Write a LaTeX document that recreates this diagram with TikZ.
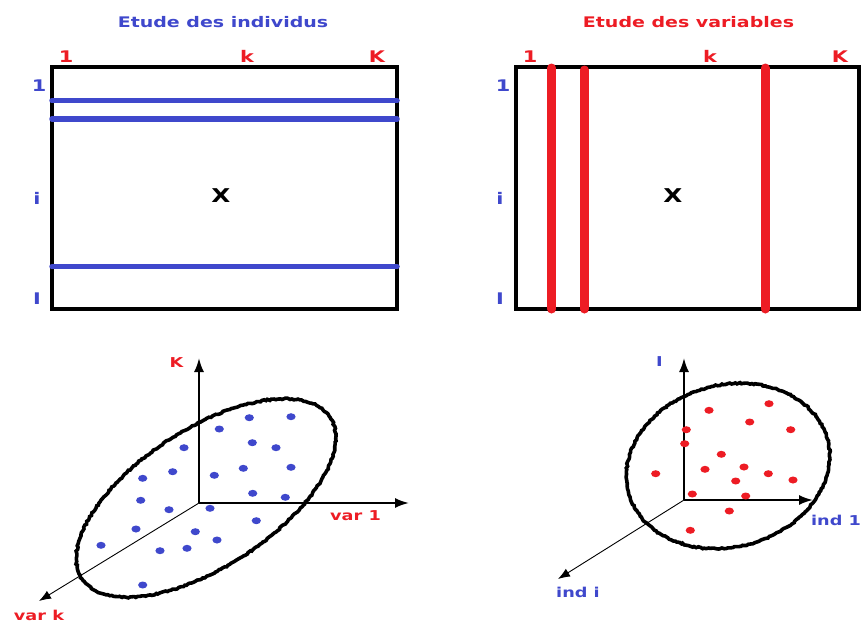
\documentclass[tikz,border=0pt]{standalone}
\usepackage{fontspec}
\usetikzlibrary{arrows.meta,decorations.pathmorphing}
\newfontfamily\lblfont{DejaVu Sans}[FakeStretch=1.3]
\definecolor{pblue}{RGB}{63,72,204}
\definecolor{pred}{RGB}{237,28,36}
\newcommand\setfs[1]{\fontsize{#1}{#1}\selectfont}
\begin{document}
\begin{tikzpicture}[x=1pt,y=-1pt,
  ttl/.style={font={\lblfont\bfseries\setfs{14.6}}, inner sep=0pt},
  mlab/.style={font={\lblfont\bfseries\setfs{16}}, inner sep=0pt, anchor=base},
  alab/.style={font={\lblfont\bfseries\setfs{13.6}}, inner sep=0pt, anchor=base},
  xlab/.style={font={\lblfont\bfseries\setfs{19}}, inner sep=0pt, anchor=base},
  matbox/.style={draw=black, line width=4pt},
  bline/.style={draw=pblue, line width=5.5pt, line cap=round},
  rline/.style={draw=pred, line width=9pt, line cap=round},
  axis/.style={line width=2pt, -{Latex[length=14pt,width=10pt]}},
  diag/.style={line width=0.9pt, -{Latex[length=12pt,width=9pt]}},
  cloud/.style={draw=black, line width=3.6pt, decorate,
    decoration={random steps, segment length=2pt, amplitude=0.7pt}}
]
\pgfmathsetseed{7}
\useasboundingbox (0,0) rectangle (868,622);
\fill[white] (0,0) rectangle (868,622);

% ---------- titles ----------
\node[ttl, text=pblue] (t1) at (223,22.5) {Etude des individus};
\node[ttl, text=pred] (t2) at (688.5,22.5) {Etude des variables};

% ---------- left matrix ----------
\coordinate (L1) at (52,67);
\coordinate (L2) at (397,309);
\draw[matbox] (L1) rectangle (L2);
\coordinate (ba1) at (52,100.7); \coordinate (bb1) at (397,100.7);
\coordinate (ba2) at (52,119);   \coordinate (bb2) at (397,119);
\coordinate (ba3) at (52,266.7); \coordinate (bb3) at (397,266.7);
\draw[bline] (ba1) -- (bb1);
\draw[bline] (ba2) -- (bb2);
\draw[bline] (ba3) -- (bb3);
\node[mlab, text=pred] (lc1) at (66,62.5) {1};
\node[mlab, text=pred] (lck) at (247,62.5) {k};
\node[mlab, text=pred] (lcK) at (377,62.5) {K};
\node[mlab, text=pblue] (lr1) at (39,91.7) {1};
\node[mlab, text=pblue] (lri) at (37,204) {i};
\node[mlab, text=pblue] (lrI) at (37,304) {I};
\node[xlab] (lx) at (221,202) {X};

% ---------- right matrix ----------
\coordinate (R1) at (516,67);
\coordinate (R2) at (859,309);
\draw[matbox] (R1) rectangle (R2);
\coordinate (ra1) at (551.7,68); \coordinate (rb1) at (551.7,309);
\coordinate (ra2) at (584.3,70); \coordinate (rb2) at (584.3,309);
\coordinate (ra3) at (765,68);   \coordinate (rb3) at (765,309);
\draw[rline] (ra1) -- (rb1);
\draw[rline] (ra2) -- (rb2);
\draw[rline] (ra3) -- (rb3);
\node[mlab, text=pred] (rc1) at (530,62.5) {1};
\node[mlab, text=pred] (rck) at (710,62.5) {k};
\node[mlab, text=pred] (rcK) at (840,62.5) {K};
\node[mlab, text=pblue] (rr1) at (503,91.7) {1};
\node[mlab, text=pblue] (rri) at (500,204) {i};
\node[mlab, text=pblue] (rrI) at (500,304) {I};
\node[xlab] (rx) at (673,202) {X};

% ---------- bottom left: individuals cloud ----------
\coordinate (O1) at (199,503);
\coordinate (O1up) at (199,358);
\coordinate (O1rt) at (409,503);
\coordinate (O1dg) at (39,601);
\draw[axis] (O1) -- (O1up);
\draw[axis] (O1) -- (O1rt);
\draw[diag] (O1) -- (O1dg);
\draw[cloud, rotate around={33:(206,498)}] (206,498) ellipse [x radius=148pt, y radius=69pt];
\foreach \x/\y in {249.3/417.7, 291/416.7, 219.3/429, 252.3/442.7, 276/447.7,
  184/447.7, 172.7/471.7, 142.7/478.3, 214.3/475.3, 243.3/468.3, 291/467.3,
  252.7/493.3, 285.3/497.3, 140.7/500.3, 169/509.7, 210/508.3, 256.3/520.7,
  136/529, 195.3/531.7, 101/545.3, 160/550.7, 187/548.3, 217/540, 142.7/585}
  \fill[pblue] (\x,\y) ellipse [x radius=4.6pt, y radius=3.5pt];
\node[alab, text=pred] (lK) at (176.5,367.3) {K};
\node[alab, text=pred] (lv1) at (355.5,520.7) {var 1};
\node[alab, text=pred] (lvk) at (39,620) {var k};

% ---------- bottom right: variables cloud ----------
\coordinate (O2) at (684,500);
\coordinate (O2up) at (684,358);
\coordinate (O2rt) at (813,500);
\coordinate (O2dg) at (558,579);
\draw[axis] (O2) -- (O2up);
\draw[axis] (O2) -- (O2rt);
\draw[diag] (O2) -- (O2dg);
\draw[cloud, rotate around={15:(728,466)}] (728,466) ellipse [x radius=103pt, y radius=81pt];
\foreach \x/\y in {769/403.7, 709/410.3, 749.7/422, 686.3/429.7, 790.7/429.7,
  684.7/443.7, 721.3/454.3, 744/467, 705/469.3, 655.7/473.7, 768.3/473.7,
  735.7/481, 793/480, 692.3/494, 745.7/496, 729.3/511, 690.3/530.3}
  \fill[pred] (\x,\y) ellipse [x radius=4.6pt, y radius=3.5pt];
\node[alab, text=pblue] (rI) at (659.5,366.7) {I};
\node[alab, text=pblue] (ri1) at (836,525) {ind 1};
\node[alab, text=pblue] (rii) at (578,597.3) {ind i};
\end{tikzpicture}
\end{document}
